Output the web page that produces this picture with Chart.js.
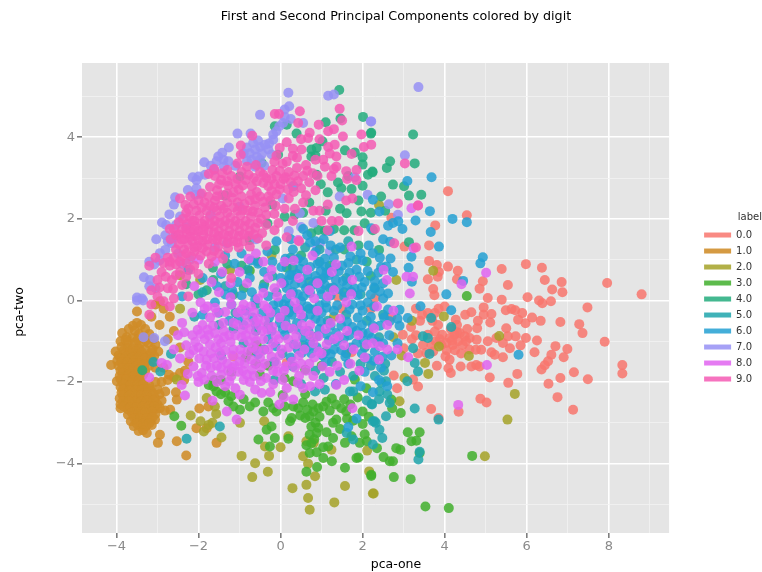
<!DOCTYPE html>
<html>
<head>
<meta charset="utf-8">
<script src="https://cdn.jsdelivr.net/npm/chart.js@4"></script>
<style>
body { margin: 0; background: #fff; }
canvas { display: block; filter: blur(0.5px); }
</style>
</head>
<body>
<canvas id="chart" width="762" height="572"></canvas>
<script>
var digitLabels = ["0.0", "1.0", "2.0", "3.0", "4.0", "5.0", "6.0", "7.0", "8.0", "9.0"];
var digitColors = ["rgba(248,118,109,.85)", "rgba(207,140,40,.88)", "rgba(165,162,40,.85)", "rgba(65,175,45,.85)", "rgba(35,172,125,.85)",
    "rgba(30,165,172,.85)", "rgba(35,160,210,.85)", "rgba(150,145,245,.85)", "rgba(225,100,240,.85)", "rgba(245,90,180,.85)"];
// higher is drawn first, so further down the stack
var drawOrder = [8, 9, 7, 6, 5, 3, 1, 4, 0, -1];
var xTickLabels = [-4, -2, 0, 2, 4, 6, 8];
var yTickLabels = [-4, -2, 0, 2, 4];

var digit0 = [[4.08,2.68],[4.54,2.09],[3.77,1.84],[3.62,1.35],[3.02,1.32],[2.7,2.03],[3.62,.97],[3.81,.87],[4.08,.83],[4.32,.73],[3.86,.7],[3.59,.52],
    [3.83,.58],[4.3,.52],[4.93,.47],[5.39,.77],[5.98,.89],[6.37,.8],[6.44,.5],[6.85,.45],[6.62,.27],[6.87,.2],[5.54,.38],[4.85,.29],[7.96,.43],[8.8,.15],
    [3.72,.28],[3.75,.13],[5.05,.06],[5.39,.02],[6.02,.08],[6.3,0],[6.38,-.07],[6.59,-.02],[7.48,-.17],[4.95,-.17],[4.65,-.29],[5.14,-.33],[4.95,-.35],
    [5.49,-.24],[5.63,-.21],[5.72,-.24],[5.89,-.31],[5.79,-.47],[5.97,-.56],[6.13,-.42],[6.34,-.5],[6.82,-.53],[7.28,-.58],[7.36,-.8],[7.9,-1.01],[5.11,-.54],
    [4.81,-.5],[4.79,-.68],[4.27,-.47],[4.3,-.6],[3.84,-.6],[3.59,-.31],[3.76,-.31],[5.5,-.68],[3.94,-.84],[4.12,-.92],[4.24,-.84],[4.37,-.8],[4.49,-.88],
    [4.61,-.92],[4.33,-1],[4.2,-1.09],[4.44,-1.09],[4.04,-1.04],[3.92,-1.09],[4.78,-.96],[4.76,-1.21],[4.89,-1.21],[5.05,-1],[5.26,-.92],[5.42,-1.04],[5.54,-.88],
    [5.73,-.88],[5.98,-.92],[6.25,-.98],[5.85,-1.1],[5.59,-1.17],[5.42,-1.39],[5.22,-1.33],[5.14,-1.27],[6.19,-1.27],[6.7,-1.12],[6.99,-1.19],[6.9,-1.39],[6.6,-1.33],
    [6.52,-1.49],[6.44,-1.59],[6.36,-1.69],[4.02,-1.37],[4.12,-1.45],[3.81,-1.6],[4.09,-1.66],[4.15,-1.78],[4.39,-1.62],[4.65,-1.62],[4.77,-1.58],[4.85,-1.62],[5.1,-1.89],
    [5.77,-1.8],[5.55,-2.02],[6.53,-2.04],[6.82,-1.9],[7.15,-1.76],[7.49,-1.93],[8.33,-1.58],[8.33,-1.79],[6.75,-2.37],[7.13,-2.68],[4.87,-2.41],[5.02,-2.5],[4.34,-2.73],
    [3.85,-2.88],[3.67,-2.66],[3.35,-2.11],[3.23,-1.94],[2.84,-2.15],[2.76,-1.84],[2.98,-.84],[3,-1.17],[3.47,-1.09],[3.55,-1.29],[3.72,-1.25],[3.59,-.84],[3.76,-.76],
    [.15,-1.53],[-1.15,-1.37],[1.73,-1.27],[1.4,.08],[1.5,-.2],[2.3,.06],[2.2,-.2],[2.7,-.4],[3.4,-.5],[3.3,-.2],[4.5,-.35],[4.55,-.7],[4.15,-.7],[3.7,-.5],[4.6,-1.2],[4.4,-1.3],
    [4.25,-1.22],[4.05,-1.22],[3.88,-.95],[4.3,-.78],[4.18,-.98],[4.52,-1],[3.78,-1],[3.68,-1.1],[3.3,-.85],[3.18,-.65],[3.45,-.35],[3.85,-.2],[4,-.15],[3.2,-.95],[3.35,-1.3]];

var digit1 = [[-3.5,-.55],[-3.6,-.62],[-3.4,-.6],[-3.3,-.7],[-3.7,-.7],[-3.86,-.8],[-3.55,-.75],[-3.45,-.82],[-3.2,-.82],[-3.75,-.9],[-3.62,-.92],[-3.35,-.92],[-3.1,-.95],
    [-3.9,-1],[-3.72,-1.02],[-3.55,-1.03],[-3.42,-1.05],[-3.22,-1.05],[-3.05,-1.08],[-4.02,-1.25],[-3.88,-1.14],[-3.73,-1.16],[-3.6,-1.17],[-3.45,-1.18],[-3.3,-1.2],[-3.12,-1.2],
    [-2.98,-1.25],[-3.95,-1.35],[-3.8,-1.3],[-3.65,-1.3],[-3.5,-1.32],[-3.36,-1.34],[-3.22,-1.36],[-3.08,-1.36],[-4.13,-1.58],[-3.98,-1.48],[-3.84,-1.44],[-3.7,-1.45],[-3.56,-1.46],
    [-3.42,-1.48],[-3.28,-1.5],[-3.95,-1.6],[-3.8,-1.58],[-3.66,-1.6],[-3.52,-1.6],[-3.38,-1.62],[-3.9,-1.72],[-3.75,-1.72],[-3.6,-1.74],[-3.46,-1.76],[-3.05,-1.65],[-2.85,-1.65],
    [-3.99,-1.98],[-3.92,-1.85],[-3.78,-1.86],[-3.62,-1.88],[-3.48,-1.9],[-3.35,-1.82],[-3.85,-2],[-3.7,-2],[-3.55,-2.02],[-3.4,-2],[-3.9,-2.12],[-3.76,-2.13],[-3.62,-2.14],[-3.47,-2.14],
    [-3.32,-2.12],[-3.2,-2.08],[-3.05,-2],[-2.9,-2],[-2.75,-1.95],[-2.6,-1.88],[-2.45,-1.78],[-2.33,-1.72],[-2.72,-1.82],[-3.88,-2.26],[-3.74,-2.26],[-3.6,-2.27],[-3.45,-2.28],[-3.3,-2.25],
    [-3.15,-2.22],[-3,-2.18],[-2.95,-2.3],[-2.81,-2.23],[-3.92,-2.4],[-3.78,-2.4],[-3.62,-2.4],[-3.48,-2.42],[-3.34,-2.4],[-3.2,-2.38],[-3.06,-2.4],[-2.9,-2.45],[-3.9,-2.55],[-3.75,-2.54],[-3.6,-2.54],
    [-3.45,-2.55],[-3.3,-2.53],[-3.15,-2.52],[-3,-2.55],[-3.9,-2.64],[-3.72,-2.67],[-3.55,-2.68],[-3.4,-2.68],[-3.22,-2.66],[-3.05,-2.66],[-2.94,-2.64],[-2.69,-2.68],[-2.82,-2.7],
    [-3.72,-2.8],[-3.55,-2.82],[-3.38,-2.82],[-3.2,-2.8],[-3.05,-2.78],[-3.65,-2.96],[-3.5,-2.95],[-3.35,-2.95],[-3.18,-2.93],[-3.06,-2.92],[-3.58,-3.08],[-3.42,-3.08],[-3.28,-3.08],[-3.14,-3.05],
    [-3.46,-3.2],[-3.26,-3.25],[-3.35,-3.18],[-2.94,-3.29],[-2.99,-3.49],[-2.53,-3.45],[-2.3,-3.8],[-2.53,-2.43],[-2.55,-2.25],[-1.98,-2.65],[-2.05,-3.13],[-1.76,-2.6],[-1.56,-3.49],[-1.8,-3.13],
    [-2.94,-.02],[-3.05,-.1],[-3.5,-.27],[-2.85,-.2],[-3.15,-.4],[-2.7,-.4],[-2.6,-.75],[-2.75,-.95],[-2.95,-.6],[-2.45,-1.15],[-2.25,-1.5],[-2.35,-1.95],
    [-3.78,-.97],[-3.48,-.96],[-3.28,-.98],[-3.82,-1.22],[-3.66,-1.24],[-3.52,-1.25],[-3.38,-1.27],[-3.16,-1.29],[-3.9,-1.41],[-3.76,-1.38],[-3.62,-1.39],[-3.46,-1.4],[-3.3,-1.42],[-3.14,-1.44],[-3.88,-1.52],[-3.74,-1.52],[-3.6,-1.53],
    [-3.46,-1.55],[-3.32,-1.57],[-3.2,-1.6],[-3.85,-1.66],[-3.7,-1.66],[-3.58,-1.67],[-3.44,-1.68],[-3.3,-1.72],[-3.84,-1.79],[-3.68,-1.8],[-3.54,-1.82],[-3.4,-1.85],[-3.9,-1.93],[-3.76,-1.93],[-3.6,-1.95],[-3.46,-1.96],[-3.82,-2.06],
    [-3.66,-2.07],[-3.5,-2.08],[-3.35,-2.05],[-3.84,-2.19],[-3.68,-2.2],[-3.54,-2.21],[-3.38,-2.19],[-3.22,-2.16],[-3.84,-2.33],[-3.68,-2.33],[-3.54,-2.34],[-3.4,-2.33],[-3.26,-2.32],[-3.1,-2.3],[-3.84,-2.47],[-3.7,-2.47],[-3.54,-2.48],
    [-3.4,-2.47],[-3.26,-2.46],[-3.1,-2.46],[-3.82,-2.6],[-3.66,-2.61],[-3.5,-2.61],[-3.36,-2.6],[-3.2,-2.59],[-3.08,-2.6],[-3.62,-2.75],[-3.46,-2.75],[-3.3,-2.74],[-3.14,-2.72],[-3.56,-2.89],[-3.42,-2.89],[-3.26,-2.88],[-3.12,-2.86],[-3.5,-3.02],[-3.35,-3.02],[-3.2,-3.01]];

var digit2 = [[-.95,-3.81],[-.62,-3.99],[-.69,-4.33],[-.31,-4.2],[-.28,-3.81],[0,-3.6],[-.4,-2.96],[-.38,-3.58],[.29,-4.6],[.63,-4.52],[.67,-4.84],[.71,-5.13],[1.31,-4.95],[1.57,-4.55],[2.25,-4.73],
    [.84,-4.31],[.67,-4],[.55,-3.82],[.63,-3.45],[.81,-3.49],[2.16,-4.19],[2.11,-3.68],[1.24,-3.66],[-1.44,-3.36],[-1.87,-3.21],[-1.95,-2.96],[-1.66,-3],[-1.57,-2.78],[-2.19,-2.82],[-1.8,-2.39],
    [-2.53,-1.94],[-.99,-3],[.19,-3.33],[5.71,-2.29],[5.53,-2.92],[4.98,-3.82],[2.9,-2.47],[2.27,-4.73],[3.6,-1.8],[3.52,-1.53],[3.02,-1.9],[3.86,-1.13],[4.59,-1.36],[5.33,-.87],[3.98,-.39],
    [2.82,.5],[3.72,.73],[2.4,2.34],[-2.45,.62],[-1.96,.5],[-1.23,.75],[-.22,1.11],[1.3,-.4],[.8,-.9],[3.2,-.5],[2.75,-.9],[2.95,-1.35],[-1.6,-2.6],[-1.75,-3.05],[-2.45,-.2]];

var digit3 = [[-2.59,-2.84],[-2.42,-3.07],[-1.64,-2.11],[-1.75,-2.07],[-1.56,-2.23],[-1.45,-2.3],[-1.27,-2.47],[-1.15,-2.6],[-.99,-2.68],[-.75,-2.6],[-.54,-3.41],[-.22,-3.09],[-.34,-3.17],[-.14,-3.37],[-.26,-3.58],
    [.23,-2.96],[.27,-2.88],[.19,-3.39],[-.18,-2.64],[.31,-2.6],[.43,-2.64],[.71,-2.84],[.6,-2.88],[.75,-3.09],[.71,-3.29],[.88,-3.25],[.71,-3.74],[.63,-3.55],[1.04,-3.86],[1.25,-3.94],[.89,-4.08],
    [.63,-4.2],[1.57,-4.1],[2.21,-4.27],[1.85,-3.86],[1.9,-3.85],[1.04,-3.6],[1.16,-3.58],[1.28,-3.37],[1.12,-3.23],[1.57,-3.49],[2,-3.03],[1.93,-3.49],[1.73,-3.33],[2.1,-3.45],[1.28,-3],[1.36,-2.92],
    [1.2,-2.7],[.92,-2.64],[1.04,-2.6],[1.48,-2.64],[1.77,-2.95],[1.7,-2.55],[2.09,-2.15],[1.81,-1.94],[-.58,-1.09],[-.5,-1.82],[.31,-1.98],[-.71,-1.25],[-.1,-2.72],[.1,-2.6],[.55,-2.5],[.8,-2.72],[1.35,-2.55],
    [.85,-3],[.95,-2.85],[1.6,-2.72],[-.85,-1.4],[-.6,-1.55],[-.3,-1.6],[.1,-1.9],[.6,-1.7],[1,-1.6],[-1.2,-1.75],[-1.45,-1.95],
    [2.93,-2.76],[2.72,-2.64],[2.7,-2.43],[3.1,-3.23],[3.39,-3.23],[3.19,-3.45],[3.31,-3.44],[2.82,-3.62],[2.92,-3.66],[2.35,-3.62],[2.51,-3.84],[2.66,-3.94],[2.74,-3.94],[2.21,-4.3],[2.76,-4.33],[3.17,-4.38],
    [3.53,-5.05],[4.1,-5.09],[4.67,-3.81],[3.39,-3.74],[4.54,.11],[-.75,.73],
    [.78,-2.55],[.65,-2.68],[.48,-2.82],[.82,-3.4],[.92,-3.12],[1.12,-2.48],[1.25,-2.4],[1.55,-2.42],[1.88,-2.38],[2,-2.72],[2.15,-2.85],[2.05,-3.28],[1.45,-3.15],[1.62,-2.9],[-.42,-2.72],[-.62,-2.5],[-.3,-2.5],[.05,-2.32],[.6,-2.3],[-.9,-2.42],[-1.35,-2.25],[-1.62,-1.95],[-1.2,-2.35],[.75,-3.5],[.88,-3.72]];

var digit4 = [[1.43,5.16],[2.01,4.5],[2.2,4.09],[.39,4.09],[1.1,4.37],[1.46,4.46],[-.14,4.27],[.15,4.31],[.88,3.74],[.75,3.7],[1.57,3.68],[1.81,3.63],[2,3.51],[2,3.33],[2.24,3.16],[2.13,3.08],[1.4,2.89],[1.48,2.75],
    [1.73,2.73],[2,2.81],[.75,3.53],[.88,3.08],[.31,2.8],[-.32,1.89],[.92,1.73],[1.08,1.71],[1.61,2.14],[1.97,2.18],[2.05,1.89],[-1.35,2.57],[-.99,3.04],[-.06,3.57],[-.46,3.37],[-.75,1.48],[-1.64,.5],[-1.8,.25],[-.14,1.24],
    [3.23,4.07],[3.27,3.36],[2.67,3.41],[2.59,3.25],[2.24,3.14],[2.74,2.84],[3.01,2.8],[3.13,2.57],[3.43,2.59],[3.13,1.43],[2.4,1.24],[2.21,4.11],[-3.37,-1.71],[1.55,1.25],[1.2,.85],[.5,1.1],[.15,.8],[-.4,.4],[-.9,.3],[-1.3,.9],
    [1.9,1.35],[2.1,.95],[2.2,.6],[.35,2.1],[.7,2.4],[1.1,2.2],[1.65,3.05],[-.2,2.35],[-2.3,.4],[-1.15,.15],
    [1.02,3.9],[.85,3.55],[.98,2.85],[1.15,2.65],[.55,2.15],[.75,1.65],[1.3,1.75],[1.55,1.72],[1.8,1.72],[2.25,1.72],[2.2,2.15],[2.45,2.55],[2.55,2.2],[1.45,2.25],[1.9,2.45],[.1,2.05],[-.55,.95],[-.95,.85],[-1.65,.8],[-2,.15]];

var digit5 = [[-2.67,-1.31],[-3.1,-1.51],[-2.93,-1.74],[-2.29,-3.39],[-1.48,-3.09],[2.25,-2.96],[2.32,-3],[1.77,-2.23],[1.69,-2.23],[1.08,-2.19],[.84,-2.23],[2.22,-2.54],[1.77,-1.85],[1.61,-3.25],[1.77,-3.41],[2.25,-3.53],
    [3.36,-3.9],[3.39,-3.71],[3.27,-2.65],[3.85,-2.92],[2.41,-3.17],[2.57,-2.84],[2.48,-3.37],[2.23,-2.55],[2.29,-2.96],[2.66,-2.51],[2.46,-2.02],[2.41,-2.23],[2.57,-1.98],[3.09,-1.98],[3.35,-1.74],[3.63,-1.31],[4.16,-.65],
    [3.47,-.88],[3.59,-.92],[3.23,-1.17],[3.27,-1.53],[3.67,-.43],[.3,.8],[.7,.45],[1.2,.3],[1.6,.55],[1.95,.15],[2.3,.3],[-.1,.2],[-.6,-.1],[-1.1,-.3],[-1.5,-.6],[-.3,-.6],[.2,-.3],[.7,-.2],[1.15,-.5],[1.6,-.35],[2.1,-.5],
    [2.4,-.9],[2.05,-1.15],[1.6,-1.3],[1.1,-1.25],[.55,-1.1],[.05,-1.3],[-.4,-1.2],[-.9,-1.05],[-1.45,-1.35],[-.15,-1.95],[.5,-2.05],[1.05,-1.9],[1.45,-1.75],[2.2,-1.6],[2.55,-1.55],[2.5,-.35],[-1.9,.2],[-2.1,-.4],[-1.35,.35],[-.8,.75],[.95,1.25],[1.65,1.45],
    [2.3,-1.85],[2.52,-1.72],[2.4,-2.42],[2.6,-2.3],[2.1,-2.45],[1.95,-1.55],[1.25,-1.5],[.85,-1.72],[.3,-1.62],[-.15,-1.5],[-.6,-.75],[-1.15,-.7],[.95,.95],[1.35,1.25],[.6,1.3],[.25,1.05],[-.2,.6],[1.85,1],[1.55,.2],[1,.5]];

var digit6 = [[5.8,-1.33],[4.16,-.24],[3.41,-.14],[2.9,-.23],[3.1,-.43],[2.66,-.51],[3.68,3.02],[4.19,2],[4.54,1.92],[4.93,1.06],[4.87,.91],[4.45,.48],[4.04,.15],[3.86,1.32],[3.66,1.68],[3.64,2.19],[3.29,1.96],[3.09,2.93],
    [2.25,2.47],[2.41,2.18],[2.97,1.75],[2.87,1.94],[2.74,1.9],[2.62,1.83],[2.5,1.5],[2.67,1.44],[2.25,1.16],[2.68,1.03],[3.19,1.07],[3.12,.8],[2.58,.83],[2.74,.7],[3.2,.46],[2.62,.17],[2.3,.47],[2.21,1.77],
    [.55,1.75],[.65,1.6],[.85,1.45],[1.2,1.7],[1.45,1.3],[1.3,1.05],[.9,.9],[.55,.95],[.3,1.25],[-.1,1.45],[-.2,.95],[-.55,.9],[-.75,.55],[-.4,.7],[0,.55],[.35,.4],[.85,.6],[1.05,.55],[1.5,.85],[1.85,.75],[2.05,.45],[2.2,.15],[1.8,.3],[1.35,.5],
    [1,.15],[.55,.1],[.15,.05],[-.3,.1],[-.7,.2],[-1.05,.45],[-1.45,.65],[-1.2,-.1],[-.85,-.25],[-.45,-.3],[0,-.4],[.4,-.55],[.85,-.45],[1.3,-.25],[1.75,-.1],[2.2,-.4],[2.5,.05],[2.15,-.8],[1.75,-.65],[1.35,-.8],[.95,-.7],[.55,-.9],[.1,-.85],[-.3,-.95],
    [.25,-1.4],[.75,-1.3],[1.3,-1.2],[1.85,-1.05],[2.3,-1.25],[2.65,-.85],[2.85,-1.05],[2.7,-1.35],[2.45,-1.65],[2.05,-1.75],[1.65,-1.55],[1.1,-1.5],[.4,.65],[.15,.3],[-.05,-.05],[.65,-.15],[1.1,-.05],[1.55,.1],[2,-.25],[.05,-.7],[.35,-.2],[-1.9,-.35],[-1.6,-.05],
    [-1.9,.55],[-2.25,.75],[-2.4,.1],[-1.35,1.1],[-.95,1.15],[2.4,-1.95],[2.25,-2.25],[1.95,-2.1],[1.35,-2.05],[2.6,-2.1],[1.85,-2.9],[1.65,-3.1],
    [.02,.82],[.22,.62],[.52,.42],[.72,.82],[.98,.72],[1.18,.62],[1.42,.72],[1.68,.68],[1.92,.58],[2.12,.72],[2.38,.68],[2.5,.42],[2.42,.22],[2.12,-.05],[1.88,.12],[1.62,.38],[1.42,.28],[1.22,.12],[.98,.28],[.72,.18],[.42,.15],[.22,-.12],[-.18,-.12],[-.42,.32],[-.62,.02],
    [-.95,.12],[-1.18,.25],[-1.02,-.45],[-.68,-.42],[-.28,-.42],[.12,-.52],[.55,-.42],[1,-.3],[1.48,-.62],[1.88,-.42],[2.42,-.62],[2.62,-.22],[2.35,-1.02],[2.02,-.98],[1.55,-.92],[1.18,-.98],[.72,-1.02],[.32,-1.08],[-.12,-1.12],[-.55,-1.32],[.52,-1.28],[1.02,-1.35],[1.58,-1.38],[2.12,-1.42],[2.48,-1.38],[2.9,-.62],[2.85,-.45],
    [.85,1.18],[1.08,1.02],[.42,1.02],[.12,1.02],[-.32,1.2],[.72,1.42],[1.05,1.5],[1.22,1.35],[1.7,1.08],[1.95,1.15],[2.15,1.35],[2.42,1.05],[2.45,.82],[-.72,.98],[-1.12,.9],[-1.55,.35],[-1.35,.15],[.25,1.5],[.95,-.12],[1.85,-.75],[.12,-.22],[-.6,-.6],[-.9,-.6],[-1.25,-.5],[-1.5,-.3],[.2,.5],[.65,.62],[1.1,.82],[1.65,.92],[2,.98],
    [.08,.42],[.3,.2],[.5,-.02],[.78,.38],[1.08,.38],[1.28,.32],[1.52,.48],[1.72,.22],[1.98,.32],[2.28,.32],[2.28,-.15],[1.95,-.12],[1.68,-.22],[1.38,-.12],[1.12,-.18],[.82,-.22],[.48,-.22],[.28,-.35],[-.12,-.28],[.08,-.1],[.72,-.35],[.98,-.52],[1.22,-.62],[1.62,-.52],[1.98,-.6],[2.25,-.62],[2.52,-.42],
    [.22,-.68],[.45,-.72],[.68,-.75],[.88,-.88],[1.12,-.82],[1.38,-1],[1.68,-.85],[2,-.8],[2.22,-.92],[2.5,-1.05],[.42,-1.2],[.65,-1.15],[.88,-1.15],[1.22,-1.32],[1.48,-1.22],[1.72,-1.15],[1.98,-1.3],[2.28,-1.48],[-.22,-.75],[-.02,-.55],[.62,.3],[.88,.48],[1.12,.68],[1.32,.82],[.48,.78],[.28,.62]];

var digit7 = [[.19,5.09],[-.5,4.55],[1.16,5.02],[1.3,5.05],[.21,4.76],[.1,4.68],[-1.05,4.09],[-.73,4.09],[-.18,4.07],[-.18,3.94],[.06,4.35],[-.03,4.27],[-1.86,3.39],[-1.26,3.75],[-1.52,3.53],[-1.39,3.45],[-1.27,3.41],[-1.56,3.41],
    [-.67,3.86],[-.5,3.76],[-.58,3.53],[-.75,3.61],[-.71,3.45],[-.5,3.45],[-2.14,3.02],[-2,3.04],[-1.84,3.08],[-2.26,2.71],[-1.96,2.61],[-2.08,2.59],[-2.57,2.53],[-2.71,2.11],[-2.89,1.91],[-2.79,1.85],[-2.81,1.6],[-3.03,1.5],[-2.94,1.16],[-2.81,1.24],
    [-3.2,.95],[-3.33,.57],[-3.18,.5],[-3.5,.07],[-3.38,.05],[-2.45,2.06],[-1.31,1.4],[.47,2.14],[.96,1.4],[.89,1.28],[1.81,3.02],[2.2,4.39],[1.44,2.55],[2.12,2.59],[.55,4.35],[3.36,5.23],[3.03,3.56],[2.64,2.36],[2.86,2.1],[2.21,4.39],[-3.34,-.9],[-3.08,-.92],[-2.82,-1],
    [-3.5,0],[-3.35,0],[-.3,3.7],[-.4,3.3],[-.9,3.6],[.05,2.5],[-1,2.3],[-1.7,2.1],[-2.3,1.8],[-2.2,1],[-2.4,.9],[-1.6,1.3],[-.6,1.5],[.2,1.7],[.5,1.8],[.8,1.9],[.3,2.8],[1.2,1.2],[-.62,3.7],[-.45,3.6],[-.82,3.75],[-.28,3.85],[-1.1,3.3],[-1.7,3.3],[-2.05,2.75],[-2.55,1.85],[-2.65,1.4],[-2.5,1.15],
    [-.55,3.92],[-.62,3.28],[-.82,3.42],[-.38,3.82],[-.22,3.58],[-1.42,3.62],[-1.62,3.2],[-1.38,3.28],[-3.08,.88],[-2.95,.98],[-2.75,1.45],[-2.6,1.55],[-3.2,.35],[-3.05,.3],[-2.6,2.35],[-2.05,2.95],[.25,4.45],[.1,4.5],[-.1,4.15]];

var digit8 = [[-3.2,-1.89],[-2.41,-2.07],[-2.33,-2.33],[-2.26,-1.8],[-2,-2],[-1.86,-1.94],[-1.66,-2.46],[-1.31,-2.72],[-1.07,-2.92],[-.03,-2.55],[1.75,-2.64],[1.36,-2.07],[.31,-2.43],[-.46,-2.27],[-.75,-2],[-.99,-2.31],[.15,-2.15],[-2.77,-1.58],[-2.9,-1.53],
    [5.03,-1.58],[4.33,-2.56],[3.11,-1.39],[2.85,-1.2],[5.01,.68],[4.41,.4],[3.19,2.26],[3.24,1.28],[3.23,.58],[3.07,.58],[2.59,.5],[2.51,.75],[3.15,.17],[1.73,1.32],[.43,1.48],
    [-2.3,-1.1],[-2.15,-.85],[-2,-1.15],[-1.9,-.6],[-1.85,-.95],[-1.7,-1.3],[-1.6,-.8],[-1.55,-1.6],[-1.45,-1.05],[-1.4,-.55],[-1.3,-1.55],[-1.25,-.85],[-1.2,-1.85],[-1.15,-1.2],[-1.05,-.6],[-1,-1.5],[-.95,-.9],[-.9,-1.95],[-.85,-.35],[-.8,-1.25],[-.75,-.7],
    [-.7,-1.7],[-.6,-1],[-.55,-.45],[-.5,-1.4],[-.45,-.75],[-.35,-1.9],[-.3,-1.2],[-.25,-.3],[-.2,-.65],[-.1,-1.55],[-.05,-.95],[.05,-1.95],[.1,-.25],[.2,-1.15],[.3,-.7],[.35,-1.65],[.45,-1.35],[.5,-.35],[.6,-.75],[.7,-1.55],[.8,-1.05],[.9,-.25],[1,-1.3],[1.1,-.7],
    [1.2,-1.75],[1.3,-.95],[1.45,-.45],[1.55,-1.1],[1.7,-1.55],[1.9,-.85],[2.05,-1.4],[2.25,-1.05],[2.4,-1.45],[2.6,-1.2],[.95,-2.05],[.55,-2.15],[-.25,-2.25],[.8,-1.85],[-1.7,-1.65],[-1.55,-2],[-1.35,-2.1],[-1.1,-2.15],[-.9,-.1],[-1.2,-.1],[-1.55,-.3],[-1.85,-.2],
    [-2.15,-.3],[-2.4,-.55],[-2.5,-.85],[-2.6,-1.2],[-.55,.05],[-.15,.3],[.25,.15],[.7,.25],[1.15,.1],[1.6,-.05],[-.3,.55],[.1,.95],[.65,.75],[1.25,.7],[1.75,.5],[-1,.7],[-1.5,.2],[-1.95,-.05],[-2,1],[-2.1,.35],[-1.6,.95],[-.6,1.15],[2.35,-.15],[2.6,-.6],[2.75,-.25],[.45,-1.85],[1.55,-1.95],
    [-2.22,-1.32],[-2.08,-1.02],[-1.98,-1.42],[-1.78,-.72],[-1.72,-1.08],[-1.62,-1.42],[-1.52,-.95],[-1.48,-1.28],[-1.38,-.75],[-1.35,-1.22],[-1.28,-1.72],[-1.22,-1.02],[-1.12,-1.6],[-1.1,-.85],[-1.02,-1.75],[-.98,-1.2],[-.92,-.72],[-.88,-1.55],[-.78,-1],[-.72,-1.45],[-.65,-1.85],[-.62,-.52],[-.58,-1.22],
    [-.48,-1.65],[-.42,-.95],[-.38,-.5],[-.22,-1.38],[-.18,-1.72],[-.12,-.85],[-.02,-.42],[.02,-1.2],[.08,-1.72],[.18,-.95],[.28,-1.5],[.38,-.88],[.42,-.2],[.58,-1.2],[.62,-1.72],[.72,-.6],[.82,-1.4],[.92,-.88],[1.02,-1.62],[1.12,-1.08],[1.22,-.55],[1.38,-1.6],[1.42,-.88],
    [1.62,-.75],[1.78,-1.2],[1.92,-1.72],[2.1,-1.08],[2.28,-.68],[2.42,-1.12],[.08,-2.38],[-.62,-2.18],[-.18,-2.05],[.42,-2.02],[.72,-2.1],[-1.25,-1.98],[-1.45,-1.82],[-1.82,-1.6],[-2.12,-1.62],[-2.45,-1.42],[-2.35,-.78],[-1.72,-.42],[-1.35,-.28],[-1.05,-.3],[-.72,-.15],[-.4,-.12],[-.08,.1],
    [.35,-.05],[.82,.05],[1.3,.25],[1.72,.15],[-.42,.18],[.02,.42],[.45,.55],[.9,.42],[1.35,.88],[-.82,.42],[-1.22,.42],[-1.68,.45],[-1.42,.7],[-.78,1.02],[-.22,.75],[.32,.98],[.78,1.1],[-.42,.95],
    [-2.02,-.72],[-1.95,-.82],[-2.12,-1.22],[-1.88,-1.25],[-1.8,-1.45],[-1.75,-.85],[-1.65,-.62],[-1.58,-1.15],[-1.42,-1.45],[-1.38,-.9],[-1.18,-1.35],[-1.15,-.55],[-.95,-1.35],[-.92,-1.72],[-.85,-.85],[-.82,-.55],[-.68,-1.15],[-.65,-.88],[-.62,-1.55],[-.52,-.62],[-.42,-1.22],[-.38,-1.55],[-.32,-.72],[-.18,-1.05],
    [-.08,-1.75],[-.02,-1.35],[.12,-1.62],[.12,-.62],[.38,-1.08],[.5,-1.55],[.52,-.6],[.72,-.85],[.92,-1.25],[-1.68,-1.85],[-1.45,-1.65],[-1.18,-1.65],[-.82,-1.82],[-.48,-1.98],[-1.92,-1.78],[-2.02,-1.85],[-1.78,-.15],[-1.6,-.18],[-1.22,.08],[-.95,-.22],[-.65,-.28],[-.32,-.2]];

var digit9 = [[-.14,4.57],[-.04,4.57],[.47,4.64],[.43,4.35],[-.69,4.04],[1.44,4.7],[1.5,4.41],[.93,4.31],[.71,4.11],[1.16,4.15],[1.52,4.02],[1.97,4.07],[2.21,3.82],[2.03,3.76],[1.32,3.82],[1.16,3.76],[1.36,3.53],[1.73,3.59],[.15,3.88],[-.02,3.74],[.51,3.7],[.67,3.98],
    [-.97,3.8],[-.97,3.57],[.4,3.5],[1.04,3.45],[1.08,3.28],[1.36,3.28],[1.6,3.17],[1.85,3.2],[1.24,3.05],[3.03,3.36],[2.86,2.38],[3.35,2.33],[2.77,1.4],[3.3,1.3],[2.3,1.75],[1.75,2.5],[1.6,2.45],[1.15,2.35],[.8,2.2],[1,1.95],[.3,1.95],[1.25,1.95],[1.9,1.7],
    [-1.75,3.1],[-1.6,3.05],[-1.5,2.85],[-1.55,2.7],[-1.3,3.2],[-1.2,3.05],[-1.1,2.85],[-1.15,2.65],[-.95,3.15],[-.85,2.95],[-.7,2.8],[-.65,3],[-.5,3.15],[-.35,3],[-.3,2.8],[-.2,3.2],[-.1,3.05],[0,2.85],[.05,3.35],[.2,3.15],[.25,2.9],[.4,3.25],[.55,3.05],[.5,2.75],[.7,2.9],[.85,2.7],
    [-.1,2.6],[.2,2.5],[.1,2.25],[-.25,2.45],[-.5,2.55],[-.75,2.45],[-.95,2.55],[-1.3,2.4],[-1.6,2.45],[-1.85,2.4],[-2.2,2.55],[-2.45,2.5],[-2.05,2.2],[-1.8,2.2],[-1.55,2.2],[-1.3,2.15],[-1.05,2.2],[-.8,2.2],[-.55,2.15],[-.35,2.1],[-.55,1.9],[-.85,1.95],[-1.1,1.95],[-1.35,1.95],[-1.6,1.95],[-1.85,1.95],[-2.1,1.95],
    [-2.3,2.15],[-2.4,1.75],[-2.2,1.7],[-2,1.7],[-1.75,1.7],[-1.5,1.7],[-1.25,1.7],[-1,1.7],[-.75,1.7],[-.45,1.65],[-2.55,1.6],[-2.35,1.5],[-2.15,1.45],[-1.9,1.45],[-1.65,1.5],[-1.4,1.45],[-1.15,1.45],[-.9,1.45],[-.35,1.35],[-3.05,1.05],[-3.2,.85],[-2.75,1.05],[-2.55,1.25],[-2.35,1.25],[-2.1,1.2],[-1.8,1.2],[-1.5,1.15],
    [-2.7,.85],[-2.45,.7],[-2.9,.7],[-3,.5],[-2.65,.5],[-2.75,.3],[-3.15,.25],[-2.25,.1],[-3,.1],[-2.6,.05],[-2.1,.85],[-1.75,.9],[-1.2,.55],[-3.15,-.1],[-2.7,-.15],[-3.2,-.35],[.15,1.55],[.45,1.45],[3.35,2.33],[-.05,1.9],[.55,2.4],[-2.7,1.75],[-2.7,.95],[-.1,3.55],[.3,3.55],[.85,3.45],
    [-1.62,3.22],[-1.42,3.12],[-1.05,3.36],[-.82,3.28],[-.6,3.32],[-.42,2.88],[-.58,2.66],[-.22,2.98],[-.02,2.72],[.12,3.02],[.34,3.06],[.62,3.32],[.78,3.12],[.32,2.66],[.62,2.58],[-1.02,2.72],[-1.28,2.82],[-1.42,2.58],[-1.72,2.78],[-1.92,2.62],[-2.12,2.36],[-2.32,2.34],[-1.72,2.32],[-1.45,2.32],[-1.18,2.52],[-.88,2.36],
    [-.62,2.32],[-.38,2.28],[-.15,2.12],[-.72,2.05],[-.98,2.08],[-1.22,2.04],[-1.48,2.06],[-1.72,2.06],[-1.98,2.08],[-2.22,2.05],[-2.48,1.92],[-2.28,1.88],[-2.08,1.82],[-1.85,1.82],[-1.62,1.82],[-1.38,1.82],[-1.12,1.82],[-.88,1.82],[-.62,1.78],[-.35,1.85],[-.15,1.72],[-2.6,1.75],
    [-2.48,1.62],[-2.28,1.62],[-2.08,1.58],[-1.88,1.6],[-1.52,1.58],[-1.28,1.58],[-1.02,1.58],[-.78,1.58],[-.55,1.52],[-2.68,1.5],[-2.48,1.38],[-2.25,1.36],[-2.02,1.33],[-1.78,1.36],[-1.52,1.32],[-1.28,1.28],[-1.02,1.3],[-.75,1.32],[-2.85,.92],[-2.6,1.05],[-2.4,1.08],[-2.18,1.08],[-1.95,1.1],[-1.68,1.08],[-1.4,1.02],[-2.55,.88],[-2.3,.9],[-2.8,.58],[-2.55,.62],[-2.3,.58],[-2.95,.32],[-2.62,.28],[-2.4,.38],[-2.85,-.02],
    [-.02,3.18],[.15,3.4],[.42,2.92],[.65,3.18],[.18,2.72],[-.22,2.68],[-.42,2.42],[-.12,2.32],[.35,2.25],[-.62,2.48],[1.15,1.72],[1.42,1.95],[.95,2.2],[1.3,3.22],[1.62,2.98],[1.85,2.95],[.9,3.05],[1.2,3.6],[.95,3.95],[1.3,4.2],[.5,3.95],[.3,3.72],[-.15,3.4],
    [-1.45,2.95],[-1.3,2.92],[-1.05,2.98],[-.92,2.82],[-.78,3.08],[-.58,2.92],[-.42,3.08],[-.15,2.85],[.08,2.98],[-1.3,2.62],[-1.55,2.55],[-1.05,2.4],[-.72,2.6],[-.3,2.55],[-1.75,2.55],[-2,2.45],[-2.25,2.25],[-1.92,2.28],[-1.62,2.28],[-1.38,2.25],[-1.15,2.28],[-.92,2.22],[-.68,2.18],[-.48,2],[-2.38,2],[-2.15,1.95],
    [-1.92,1.88],[-1.72,1.88],[-1.48,1.9],[-1.25,1.88],[-1,1.88],[-.75,1.88],[-2.3,1.75],[-2.1,1.72],[-1.88,1.72],[-1.62,1.66],[-1.38,1.62],[-1.15,1.62],[-.9,1.62],[-.65,1.62],[-2.42,1.5],[-2.2,1.55],[-2,1.48],[-1.78,1.5],[-1.55,1.48],[-1.28,1.42],[-1.05,1.42],[-2.3,1.15],[-2.1,1.3],[-1.9,1.28],[-1.62,1.22],[-2.45,.95],[-2.2,.75],[-2,.65]];

function toPoints(rows) {
    return rows.map(function(r) { return { x: r[0], y: r[1] }; });
}

var seriesRows = [digit0, digit1, digit2, digit3, digit4, digit5, digit6, digit7, digit8, digit9];
var datasets = digitLabels.map(function(label, i) {
    return {
        label: label,
        data: toPoints(seriesRows[i]),
        backgroundColor: digitColors[i],
        borderWidth: 0,
        pointRadius: 5,
        order: drawOrder[i]
    };
});

Chart.defaults.font.family = "'DejaVu Sans'";

function keepInside(scale) {
    scale.ticks = scale.ticks.filter(function(t) { return t.value >= scale.min && t.value <= scale.max; });
}

function axis(min, max, labels, pad) {
    return {
        type: "linear",
        min: min,
        max: max,
        afterBuildTicks: keepInside,
        border: { display: false },
        grid: {
            tickLength: 5,
            color: function(c) { return labels.indexOf(c.tick.value) >= 0 ? "#fff" : "#f2f2f2"; },
            lineWidth: function(c) { return labels.indexOf(c.tick.value) >= 0 ? 1.6 : 0.8; },
            tickColor: function(c) { return labels.indexOf(c.tick.value) >= 0 ? "#7f7f7f" : "rgba(0,0,0,0)"; }
        },
        ticks: {
            stepSize: 1,
            includeBounds: false,
            autoSkip: false,
            maxRotation: 0,
            padding: pad,
            color: "#8a8a8a",
            font: { size: 13 },
            callback: function(v) { return labels.indexOf(v) >= 0 ? String(v).replace("-", "\u2212") : ""; }
        }
    };
}

var xAxis = axis(-4.84, 9.47, xTickLabels, 1);
xAxis.afterFit = function(s) { s.height = 21.5; };
var yAxis = axis(-5.7, 5.82, yTickLabels, 2);
yAxis.afterFit = function(s) { s.width = 82; };

var panel = {
    id: "panel",
    beforeDraw: function(chart) {
        var a = chart.chartArea;
        chart.ctx.fillStyle = "#e5e5e5";
        chart.ctx.fillRect(a.left, a.top, a.width, a.height);
    },
    // title and x label sit right of the panel centre in the original
    afterLayout: function(chart) {
        chart.boxes.forEach(function(b) {
            if (b.options && typeof b.options.text === "string" && !b.axis) {
                b.left += 15;
                b.right += 15;
            }
        });
        chart.legend.width = 762 - chart.legend.left;
        chart.legend.top += 3;
        chart.legend.bottom += 3;
    },
    // y label sits below the panel centre, which the scale title cannot do
    afterDraw: function(chart) {
        var ctx = chart.ctx;
        ctx.save();
        ctx.translate(20, 312);
        ctx.rotate(-Math.PI / 2);
        ctx.textAlign = "center";
        ctx.textBaseline = "middle";
        ctx.fillStyle = "#000";
        ctx.font = "12.5px 'DejaVu Sans'";
        ctx.fillText("pca-two", 0, 0);
        ctx.restore();
    }
};

new Chart(document.getElementById("chart"), {
    type: "scatter",
    data: { datasets: datasets },
    plugins: [panel],
    options: {
        responsive: false,
        animation: false,
        scales: {
            x: xAxis,
            y: yAxis,
            gap: {
                axis: "y",
                position: "right",
                grid: { display: false },
                border: { display: false },
                ticks: { display: false },
                afterFit: function(s) { s.width = 29; }
            }
        },
        plugins: {
            tooltip: { enabled: false },
            title: {
                display: true,
                text: "First and Second Principal Components colored by digit",
                color: "#000",
                font: { size: 12.7, weight: "normal" },
                padding: { top: 9, bottom: 38.8 }
            },
            subtitle: {
                display: true,
                position: "bottom",
                text: "pca-one",
                color: "#000",
                font: { size: 12.5, weight: "normal" },
                padding: { top: 2.5, bottom: 0 }
            },
            legend: {
                position: "right",
                fullSize: false,
                title: { display: true, text: "label", position: "end", color: "#333", font: { size: 10 }, padding: 0 },
                labels: {
                    boxWidth: 27,
                    boxHeight: 5,
                    padding: 6,
                    color: "#333",
                    font: { size: 10 },
                    sort: function(a, b) { return a.datasetIndex - b.datasetIndex; }
                }
            }
        }
    }
});
</script>
</body>
</html>
